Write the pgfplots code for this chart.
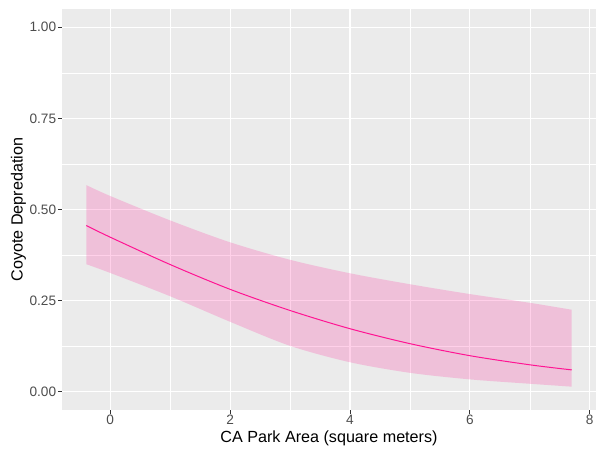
\documentclass[border=0pt]{standalone}
\usepackage{fontspec}
\setmainfont{Liberation Sans}
\usepackage{pgfplots}
\pgfplotsset{compat=1.18}
\usepgfplotslibrary{fillbetween}
\definecolor{panel}{HTML}{EBEBEB}
\definecolor{tickc}{HTML}{333333}
\definecolor{labc}{HTML}{4D4D4D}
\definecolor{dpink}{HTML}{FF1493}
\begin{document}
\begin{tikzpicture}
\begin{axis}[
  scale only axis, width=534bp, height=401bp,
  xmin=-0.805, xmax=8.105, ymin=-0.05, ymax=1.05,
  xtick={0,2,4,6,8}, ytick={0,0.25,0.5,0.75,1},
  yticklabels={0.00,0.25,0.50,0.75,1.00},
  minor xtick={-1,1,3,5,7}, minor ytick={0.125,0.375,0.625,0.875},
  grid=both,
  major grid style={white, line width=1.07bp},
  minor grid style={white, line width=0.53bp},
  axis background/.style={fill=panel},
  axis line style={draw=none},
  tick align=outside, xtick pos=left, ytick pos=left,
  major tick length=3.7bp, minor tick length=0pt,
  tick style={tickc, line width=0.8bp},
  ticklabel style={font=\fontsize{13.7}{15}\selectfont, text=labc},
  xticklabel style={inner sep=1.5bp},
  yticklabel style={inner sep=2bp},
  /pgf/number format/assume math mode=true,
  label style={font=\fontsize{16.2}{19}\selectfont, text=black},
  xlabel={CA Park Area (square meters)},
  ylabel={Coyote Depredation},
  xlabel style={yshift=-1bp},
  ylabel style={yshift=-2bp},
]
\addplot[name path=upper, draw=none, smooth] coordinates {
(-0.4,0.567) (0,0.537) (1,0.470) (2,0.410) (3,0.362) (4,0.325) (5,0.295) (6,0.268) (7,0.244) (7.7,0.225)};
\addplot[name path=lower, draw=none, smooth] coordinates {
(-0.4,0.350) (0,0.326) (1,0.262) (2,0.192) (3,0.126) (4,0.081) (5,0.052) (6,0.034) (7,0.022) (7.7,0.014)};
\addplot[dpink, fill opacity=0.2, draw=none] fill between[of=upper and lower];
\addplot[dpink, line width=1bp, smooth] coordinates {
(-0.4,0.456) (0,0.424) (1,0.349) (2,0.281) (3,0.223) (4,0.173) (5,0.132) (6,0.099) (7,0.074) (7.7,0.060)};
\end{axis}
\path (current axis.south west) ++(-62bp,-43bp) rectangle ++(597bp,453bp);
\end{tikzpicture}
\end{document}
